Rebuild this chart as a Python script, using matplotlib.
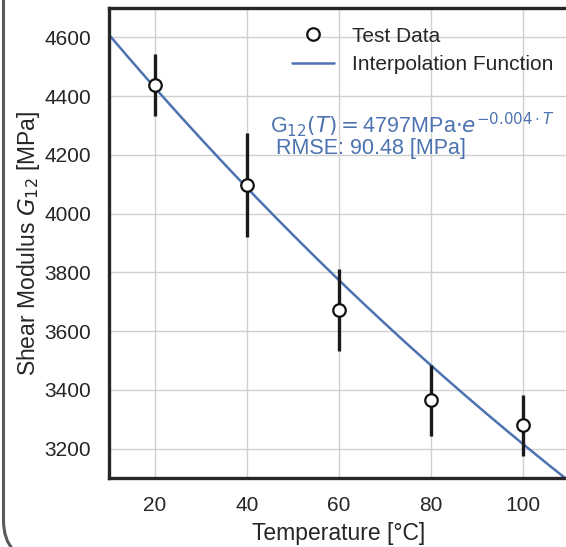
import numpy as np
import matplotlib
matplotlib.use("Agg")
import matplotlib.pyplot as plt
import seaborn as sns
from matplotlib.patches import FancyBboxPatch
from matplotlib.transforms import IdentityTransform

temperature = [20, 40, 60, 80, 100]
g12_mean = [4438, 4096, 3671, 3365, 3280]
g12_err = [107, 177, 140, 121, 104]

# fitted exponential model shown in the chart
fit_a = 4797
fit_b = -0.004
rmse = 90.48

sns.set_theme(style="whitegrid")
plt.rcParams['font.family'] = ['Liberation Sans', 'DejaVu Sans']
plt.rcParams['mathtext.fontset'] = 'dejavusans'

blue = '#4C72B0'
dark = '#262626'

fig = plt.figure(figsize=(5.66, 5.47), dpi=100)
ax = fig.add_axes([109 / 566, 69 / 547, 460 / 566, 470 / 547])

t_line = np.linspace(10, 110, 200)
g_line = fit_a * np.exp(fit_b * t_line)

ax.plot(t_line, g_line, color=blue, lw=1.8, label='Interpolation Function', zorder=2)
ax.errorbar(temperature, g12_mean, yerr=g12_err, fmt='none', ecolor='#1a1a1a',
            elinewidth=2.4, capsize=0, zorder=3)
ax.plot(temperature, g12_mean, 'o', ms=9, mfc='white', mec='#111111', mew=1.6,
        label='Test Data', zorder=4, ls='none')

ax.set_xlim(10, 110)
ax.set_ylim(3100, 4700)
ax.set_xticks([20, 40, 60, 80, 100])
ax.set_yticks([3200, 3400, 3600, 3800, 4000, 4200, 4400, 4600])
ax.grid(True, color='#d0d0d0', lw=1.0)
ax.tick_params(axis='both', labelsize=15, length=0, pad=13, colors=dark)
for s in ax.spines.values():
    s.set_color(dark)
    s.set_linewidth(2.4)

ax.set_xlabel('Temperature [°C]', fontsize=16.5, color=dark, labelpad=5)
ax.set_ylabel('Shear Modulus $G_{12}$ [MPa]', fontsize=16.5, color=dark, labelpad=1.5)

handles, labels = ax.get_legend_handles_labels()
ax.legend(handles[::-1], labels[::-1], loc='upper left', bbox_to_anchor=(0.356, 1.0),
          frameon=False, fontsize=15, handlelength=2.05, handletextpad=0.85,
          labelspacing=0.45, borderpad=0.4)

ax.text(0.35, 0.73,
        r'G$_{12}(T) =$' + f'{fit_a}' + r'MPa$\cdot e^{' + f'{fit_b}' + r'\cdot T}$'
        + f'\n RMSE: {rmse} [MPa]',
        transform=ax.transAxes, color=blue, fontsize=15.5, va='center', ha='left',
        linespacing=0.92)

# rounded frame peeking in from the left
frame = FancyBboxPatch((3.5, -13), 800, 800, boxstyle='round,pad=0,rounding_size=40',
                       transform=IdentityTransform(), fill=False, edgecolor='#5a5a5a',
                       lw=2.2, clip_on=False)
fig.add_artist(frame)

fig.savefig('out.png', dpi=100)
